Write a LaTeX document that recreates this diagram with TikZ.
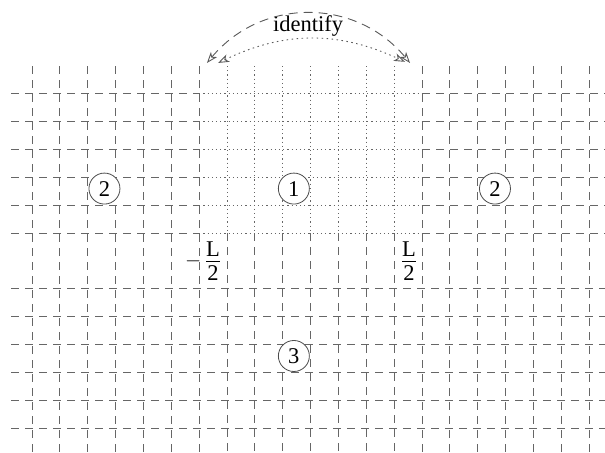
\documentclass[tikz,border=0pt]{standalone}
\usepackage{amsmath}
\usepackage{fontspec}
\setmainfont{Liberation Serif}
\usetikzlibrary{arrows.meta}
\begin{document}
\begin{tikzpicture}[x=27.85pt,y=27.85pt,
  gridline/.style={draw=black!60, line width=0.9pt},
  dsh/.style={gridline, dash pattern=on 8pt off 6pt},
  dts/.style={gridline, dash pattern=on 1.2pt off 3pt},
  region/.style={circle, draw=black!70, line width=0.8pt, fill=white,
    minimum size=31pt, inner sep=0pt, font=\fontsize{22.5}{26}\selectfont},
  lab/.style={font=\fontsize{22.5}{26}\selectfont, inner sep=0pt},
  tipA/.tip={Stealth[open,length=11pt,width=8pt,inset=3pt]},
  idarrow/.style={draw=black!65, line width=0.9pt, tipA-tipA},
]
\clip (-11.15,-6.86) rectangle (10.57,9.37);
% outer (dashed) vertical lines
\foreach \i in {-10,...,-4} \draw[dsh] (\i,7) -- (\i,-7);
\foreach \i in {4,...,10} \draw[dsh] (\i,7) -- (\i,-7);
% inner vertical lines: dotted in region 1, dashed below
\foreach \i in {-3,...,3} {
  \draw[dts] (\i,7) -- (\i,1);
  \draw[dsh] (\i,1) -- (\i,-7);
}
% upper horizontal lines
\foreach \j in {1,...,6} {
  \draw[dsh] (-10.75,\j) -- (-4,\j);
  \draw[dts] (-4,\j) -- (4,\j);
  \draw[dsh] (4,\j) -- (10.75,\j);
}
% lower horizontal lines
\foreach \j in {-6,...,-1} \draw[dsh] (-10.75,\j) -- (10.75,\j);

% region labels
\node[region] (r2l) at (-7.4,2.6) {2};
\node[region] (r1) at (-0.6,2.6) {1};
\node[region] (r2r) at (6.62,2.6) {2};
\node[region] (r3) at (-0.6,-3.41) {3};

% boundary labels
\node[lab, anchor=base, yshift=-5.5pt] (mL) at (-3.5,0)
  {$\llap{$-$\,}\displaystyle\frac{\raisebox{-4pt}{L}}{\text{2}}$};
\node[lab, anchor=base, yshift=-5.5pt] (pL) at (3.53,0)
  {$\displaystyle\frac{\raisebox{-4pt}{L}}{\text{2}}$};

% identify
\node[lab] (id) at (-0.09,8.44) {identify};
\coordinate (aL) at (-3.72,7.11);
\coordinate (aR) at (3.57,7.11);
\coordinate (bL) at (-3.32,7.11);
\coordinate (bR) at (3.39,7.15);
\draw[idarrow, dash pattern=on 9pt off 6pt] (aL) .. controls (-1.76,9.46) and (1.61,9.46) .. (aR);
\draw[idarrow, dash pattern=on 1.5pt off 3.5pt] (bL) .. controls (-0.94,8.26) and (1.01,8.26) .. (bR);
\end{tikzpicture}
\end{document}
